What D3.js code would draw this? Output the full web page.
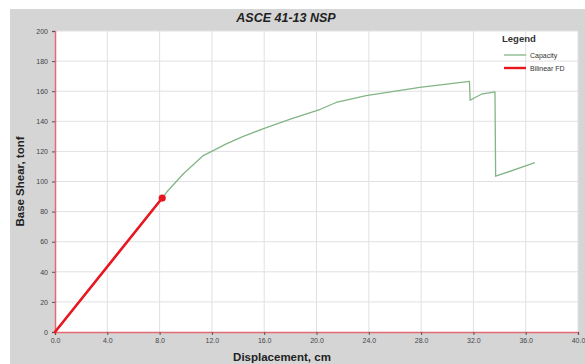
<!DOCTYPE html>
<html>
<head>
<meta charset="utf-8">
<script src="https://cdn.jsdelivr.net/npm/d3@7"></script>
<style>
  html, body { margin: 0; padding: 0; background: #fff; }
  svg { display: block; font-family: "Liberation Sans", Arial, sans-serif; }
</style>
</head>
<body>
<svg id="chart" width="585" height="364"></svg>
<script>
// Pushover capacity curve (displacement in cm, base shear in tonf)
const capacityX = [0, 8.2, 8.55, 9.8, 11.3, 12.1, 13.1, 14.4, 15.9, 18.0, 20.3, 21.5, 23.8, 27.9, 31.7, 31.75, 32.6, 33.65, 33.7, 36.7];
const capacityY = [0, 89, 93, 105, 117, 120.5, 125, 130, 135, 141.5, 148, 152.5, 157, 162.5, 166.5, 154, 158, 159.5, 103.5, 112.5];

// Bilinear force-displacement idealisation
const bilinearX = [0, 8.2];
const bilinearY = [0, 89];

const xTicks = [0, 4, 8, 12, 16, 20, 24, 28, 32, 36, 40];
const yTicks = [0, 20, 40, 60, 80, 100, 120, 140, 160, 180, 200];

const legendLabels = ["Capacity", "Bilinear FD"];

const svg = d3.select("#chart");
const W = 585, H = 364;
const plot = { left: 55, right: 578, top: 31, bottom: 332 };

// outer grey panel
svg.append("rect").attr("x", 10).attr("y", 9).attr("width", W - 10).attr("height", H - 9)
  .attr("fill", "#d5d5d6");

// plot background
svg.append("rect").attr("x", plot.left).attr("y", plot.top)
  .attr("width", plot.right - plot.left).attr("height", plot.bottom - plot.top)
  .attr("fill", "#ffffff");

const x = d3.scaleLinear().domain([0, 40]).range([plot.left, plot.right]);
const y = d3.scaleLinear().domain([0, 200]).range([plot.bottom, plot.top]);

// grid
svg.append("g").selectAll("line").data(xTicks.slice(1)).join("line")
  .attr("x1", d => x(d)).attr("x2", d => x(d))
  .attr("y1", plot.top).attr("y2", plot.bottom)
  .attr("stroke", "#e2e0e4").attr("stroke-width", 1);
svg.append("g").selectAll("line").data(yTicks.slice(1)).join("line")
  .attr("x1", plot.left).attr("x2", plot.right)
  .attr("y1", d => y(d)).attr("y2", d => y(d))
  .attr("stroke", "#e2e0e4").attr("stroke-width", 1);

// axes
const xAxis = d3.axisBottom(x).tickValues(xTicks).tickFormat(d3.format(".1f")).tickSize(3).tickPadding(3);
const yAxis = d3.axisLeft(y).tickValues(yTicks).tickFormat(d3.format("d")).tickSize(3).tickPadding(4);

const gx = svg.append("g").attr("transform", `translate(0,${plot.bottom})`).call(xAxis);
const gy = svg.append("g").attr("transform", `translate(${plot.left},0)`).call(yAxis);
[gx, gy].forEach(g => {
  g.select(".domain").attr("stroke", "#e46a74").attr("stroke-width", 1.5);
  g.selectAll(".tick line").attr("stroke", "#555");
  g.selectAll(".tick text").attr("fill", "#444").attr("font-size", 7)
    .attr("font-family", "\"Liberation Sans\", Arial, sans-serif");
});

// capacity curve
const line = d3.line().x(d => x(d[0])).y(d => y(d[1]));
svg.append("path").datum(d3.zip(capacityX, capacityY))
  .attr("d", line).attr("fill", "none")
  .attr("stroke", "#82b585").attr("stroke-width", 1.3).attr("stroke-linejoin", "round");

// bilinear curve
svg.append("path").datum(d3.zip(bilinearX, bilinearY))
  .attr("d", line).attr("fill", "none")
  .attr("stroke", "#e8161e").attr("stroke-width", 2.6).attr("stroke-linecap", "round");
svg.append("circle")
  .attr("cx", x(bilinearX[1])).attr("cy", y(bilinearY[1])).attr("r", 3.6)
  .attr("fill", "#e8161e");

// titles
svg.append("text").attr("x", 286).attr("y", 22).attr("text-anchor", "middle")
  .attr("font-size", 12.5).attr("font-weight", "bold").attr("font-style", "italic")
  .attr("fill", "#222").text("ASCE 41-13 NSP");
svg.append("text").attr("x", 282).attr("y", 361).attr("text-anchor", "middle")
  .attr("font-size", 11.5).attr("font-weight", "bold").attr("fill", "#222")
  .text("Displacement, cm");
svg.append("text").attr("transform", `translate(24,${(plot.top + plot.bottom) / 2}) rotate(-90)`)
  .attr("text-anchor", "middle").attr("font-size", 11.5).attr("font-weight", "bold")
  .attr("fill", "#222").text("Base Shear, tonf");

// legend
const legend = svg.append("g");
legend.append("text").attr("x", 502).attr("y", 42).attr("font-size", 9.5)
  .attr("font-weight", "bold").attr("fill", "#333").text("Legend");
const legendColors = ["#82b585", "#e8161e"];
const legendWidths = [1.3, 2.4];
legendLabels.forEach((lab, i) => {
  const ly = 55 + i * 13;
  legend.append("line").attr("x1", 504).attr("x2", 526).attr("y1", ly).attr("y2", ly)
    .attr("stroke", legendColors[i]).attr("stroke-width", legendWidths[i]);
  legend.append("text").attr("x", 530).attr("y", ly + 2.5).attr("font-size", 7)
    .attr("fill", "#333").text(lab);
});
</script>
</body>
</html>
